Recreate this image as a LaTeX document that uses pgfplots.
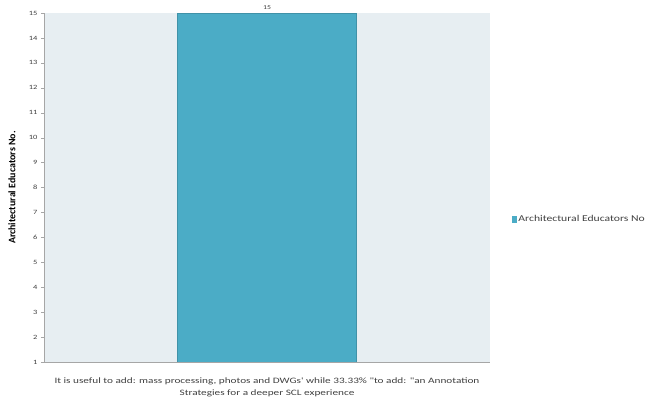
\documentclass[border=0pt]{standalone}
\usepackage{fontspec}
\setmainfont{Carlito}
\newfontfamily\wide[FakeStretch=1.3]{Carlito}
\newfontfamily\widex[FakeStretch=1.36]{Carlito}
\usepackage{pgfplots}
\pgfplotsset{compat=1.18}
\definecolor{barc}{HTML}{4BACC6}
\definecolor{bgc}{HTML}{E7EEF2}
\definecolor{axc}{HTML}{A6A6A6}
\definecolor{txc}{HTML}{404040}
\begin{document}
\begin{tikzpicture}
\path[use as bounding box] (0,0) rectangle (645bp,405bp);
\begin{axis}[
  at={(44bp,43bp)}, anchor=south west,
  scale only axis, width=446bp, height=349bp,
  xmin=-0.5, xmax=0.5, ymin=1, ymax=15,
  ytick={1,2,...,15},
  xtick={0},
  xticklabel={It is useful to add: mass processing, photos and DWGs' while 33.33\% "to add: "an Annotation\\Strategies for a deeper SCL experience},
  xticklabel style={align=center, font=\widex\fontsize{8.3}{12.5}\selectfont, text=txc, yshift=-9bp},
  yticklabel style={font=\wide\fontsize{6.5}{7}\selectfont, text=txc},
  /pgf/number format/assume math mode=true,
  axis background/.style={fill=bgc},
  axis x line*=bottom, axis y line*=left,
  axis line style={axc, line width=0.8pt},
  x axis line style={-}, y axis line style={-},
  major tick length=3bp,
  tick style={axc},
  xtick style={draw=none},
  ytick pos=left, tick align=outside,
  ylabel={\bfseries Architectural Educators No.},
  ylabel style={font=\wide\fontsize{7.5}{8}\selectfont, text=txc},
  every axis y label/.style={at={(axis description cs:-0.072,0.5)}, rotate=90, anchor=center},
  ybar, bar width=179bp,
  nodes near coords,
  every node near coord/.append style={font=\wide\fontsize{6}{7}\selectfont, text=txc},
  legend style={at={(1.049,0.41)}, anchor=west, draw=none, fill=none, font=\wide\fontsize{9}{10}\selectfont, text=txc, inner sep=0pt},
  legend image code/.code={\fill[barc] (0bp,-3bp) rectangle (4bp,3bp);},
]
\addplot[fill=barc, draw=barc!85!black] coordinates {(0,15)};
\addlegendentry{Architectural Educators No}
\end{axis}
\end{tikzpicture}
\end{document}
